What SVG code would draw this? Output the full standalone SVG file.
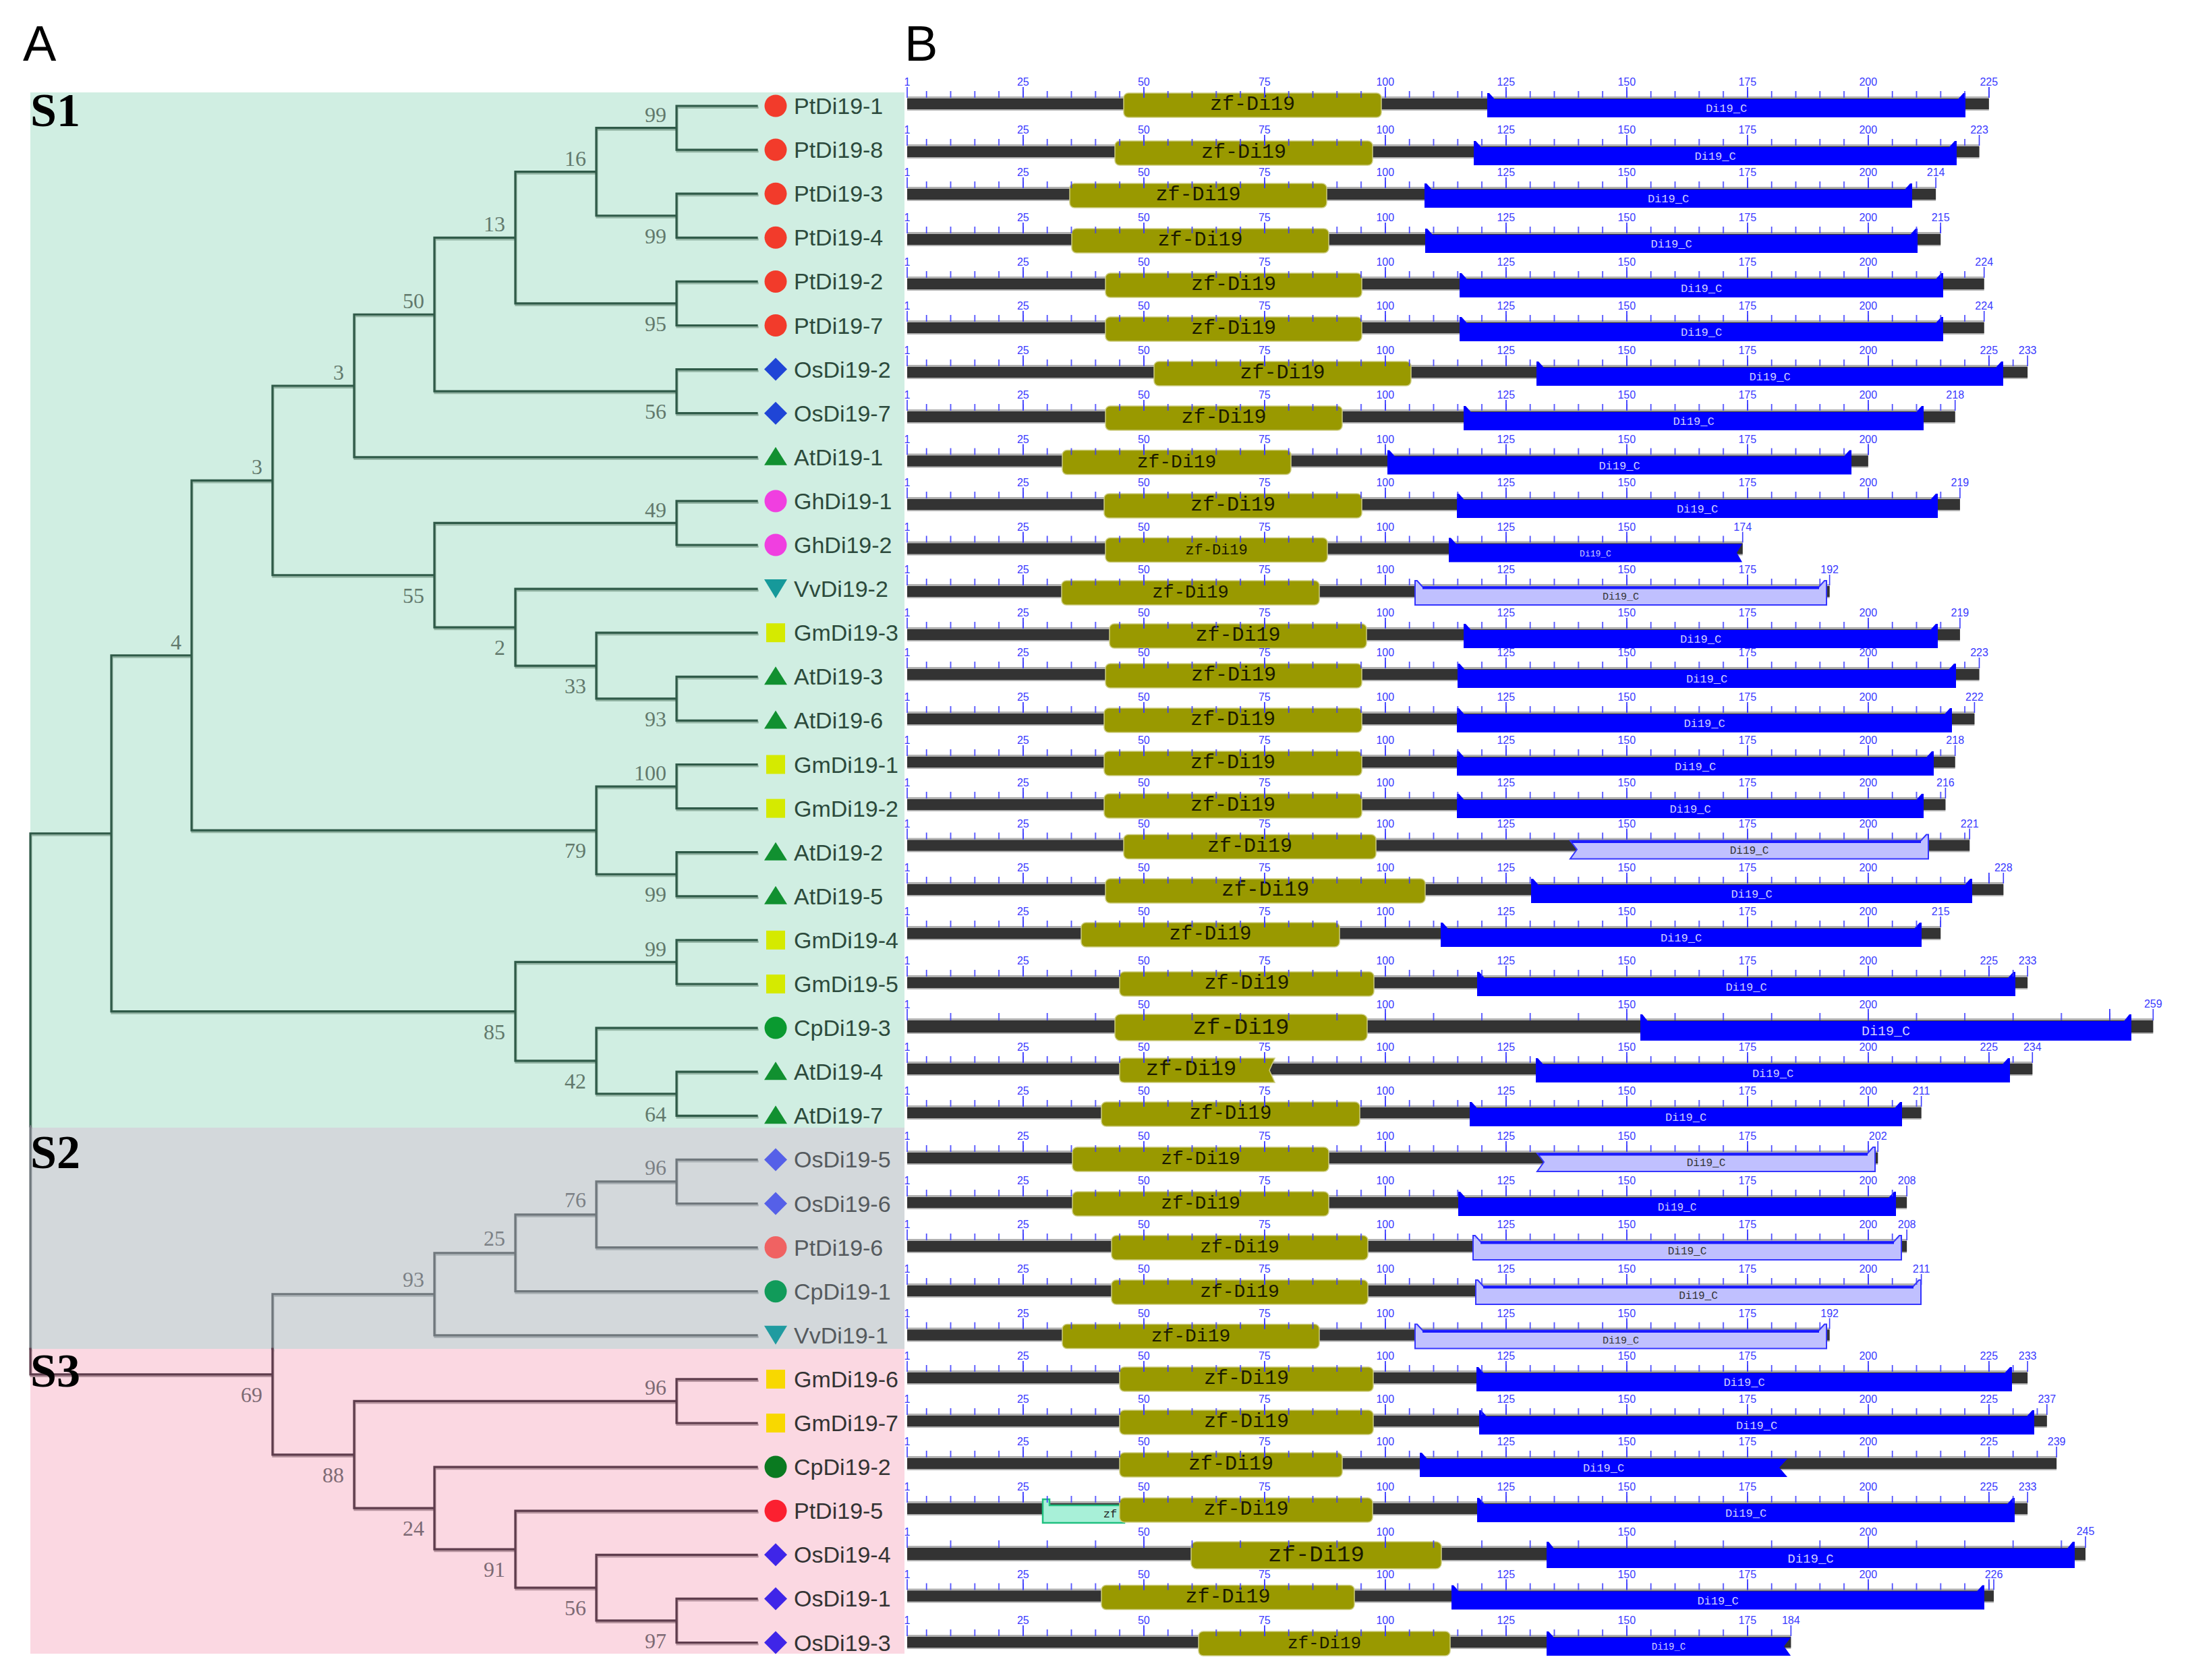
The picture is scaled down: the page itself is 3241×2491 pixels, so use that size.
<svg xmlns="http://www.w3.org/2000/svg" xmlns:xlink="http://www.w3.org/1999/xlink" width="3241" height="2491" viewBox="0 0 3241 2491">
<style>
.bg1{fill:#d0eee2}.bg2{fill:#d3d8db}.bg3{fill:#fbd8e2}
.ln{fill:none;stroke-width:3.2;stroke-linecap:square}
.c1{stroke:#2f5a48}.c2{stroke:#6f777c}.c3{stroke:#5e3c4c}
.s1{stroke:#93b4a4}.s2{stroke:#a9b0b4}.s3{stroke:#b7949f}
.lb1{font-family:"Liberation Sans",Arial,sans-serif;font-size:34px;fill:#2c4a3c}
.lb2{font-family:"Liberation Sans",Arial,sans-serif;font-size:34px;fill:#555a5e}
.lb3{font-family:"Liberation Sans",Arial,sans-serif;font-size:34px;fill:#333333}
.bs1{font-family:"Liberation Serif","Times New Roman",serif;font-size:32px;fill:#62796c;text-anchor:end}
.bs2{font-family:"Liberation Serif","Times New Roman",serif;font-size:32px;fill:#7b8085;text-anchor:end}
.bs3{font-family:"Liberation Serif","Times New Roman",serif;font-size:32px;fill:#7d6a74;text-anchor:end}
.sec{font-family:"Liberation Serif","Times New Roman",serif;font-size:70px;font-weight:bold;fill:#000}
.pan{font-family:"Liberation Sans",Arial,sans-serif;font-size:74px;fill:#000}
.bb{fill:#b0b0b0}.bd{fill:#333333}
.zf{fill:#999900;stroke:#cccc80;stroke-width:1.5}
.cd{fill:#0000ff}
.cl{fill:#c0c0ff;stroke:#3535ff;stroke-width:2}
.cs{fill:#1a1aff}
.te{fill:#a8f0d8;stroke:#20c080;stroke-width:2.5}
.zt{font-family:"Liberation Mono","Courier New",monospace;font-size:30px;fill:#1a1a00;text-anchor:middle}
.ct{font-family:"Liberation Mono","Courier New",monospace;font-size:17px;fill:#d0d0ff;text-anchor:middle}
.ctl{font-family:"Liberation Mono","Courier New",monospace;font-size:16px;fill:#333333;text-anchor:middle}
.m5{fill:url(#pm5)}.M25{fill:url(#pM25)}.m10{fill:url(#pm10)}.M50{fill:url(#pM50)}
.tk{fill:#3a3aff}
.tl{font-family:"Liberation Sans",Arial,sans-serif;font-size:16px;fill:#3a3aff;text-anchor:middle}
</style>
<defs>
<pattern id="pm5" patternUnits="userSpaceOnUse" x="1372.8" y="0" width="35.8" height="40"><rect x="0" y="0" width="1.6" height="40" fill="#3a3aff"/></pattern>
<pattern id="pM25" patternUnits="userSpaceOnUse" x="1516" y="0" width="179" height="40"><rect x="0" y="0" width="1.8" height="40" fill="#3a3aff"/></pattern>
<pattern id="pm10" patternUnits="userSpaceOnUse" x="1408.6" y="0" width="71.6" height="40"><rect x="0" y="0" width="1.6" height="40" fill="#3a3aff"/></pattern>
<pattern id="pM50" patternUnits="userSpaceOnUse" x="1695" y="0" width="358" height="40"><rect x="0" y="0" width="1.8" height="40" fill="#3a3aff"/></pattern>
<g id="L150" font-family="Liberation Sans, Arial, sans-serif" font-size="16" fill="#3a3aff" text-anchor="middle"><text x="1345" y="-27">1</text><text x="1516.8" y="-27">25</text><text x="1695.8" y="-27">50</text><text x="1874.8" y="-27">75</text><text x="2053.8" y="-27">100</text><text x="2232.8" y="-27">125</text><text x="2411.8" y="-27">150</text></g>
<g id="L175"><use href="#L150"/><text x="2590.8" y="-27" font-family="Liberation Sans, Arial, sans-serif" font-size="16" fill="#3a3aff" text-anchor="middle">175</text></g>
<g id="L200"><use href="#L175"/><text x="2769.8" y="-27" font-family="Liberation Sans, Arial, sans-serif" font-size="16" fill="#3a3aff" text-anchor="middle">200</text></g>
<g id="L225"><use href="#L200"/><text x="2948.8" y="-27" font-family="Liberation Sans, Arial, sans-serif" font-size="16" fill="#3a3aff" text-anchor="middle">225</text></g>
<g id="LL200" font-family="Liberation Sans, Arial, sans-serif" font-size="16" fill="#3a3aff" text-anchor="middle"><text x="1345" y="-27">1</text><text x="1695.8" y="-27">50</text><text x="2053.8" y="-27">100</text><text x="2411.8" y="-27">150</text><text x="2769.8" y="-27">200</text></g>
<circle id="sc" cx="0" cy="0" r="16.5"/>
<path id="stu" d="M0,-15L17,12H-17Z"/>
<path id="std" d="M0,14L17,-14H-17Z"/>
<rect id="ssq" x="-14" y="-14" width="28" height="28"/>
<path id="sdm" d="M0,-17L17,0L0,17L-17,0Z"/>
<path id="tS1" d="M1122,157H1003V222.1H1122M1122,287.2H1003V352.3H1122M1003,189.55H884V319.75H1003M1122,417.4H1003V482.5H1122M884,254.65H764V449.95H1003M1122,547.6H1003V612.7H1122M764,352.3H644V580.15H1003M644,466.23H525V677.8H1122M1122,742.9H1003V808H1122M1122,1003.3H1003V1068.4H1122M1122,938.2H884V1035.85H1003M1122,873.1H764V987.03H884M1003,775.45H644V930.06H764M525,572H404V852.76H644M1122,1133.5H1003V1198.6H1122M1122,1263.7H1003V1328.8H1122M1003,1166.05H884V1296.25H1003M404,712.38H284V1231.15H884M1122,1393.9H1003V1459H1122M1122,1589.2H1003V1654.3H1122M1122,1524.1H884V1621.75H1003M1003,1426.45H764V1572.93H884M284,971.77H165V1499.69H764M165,1235.73H45V1670"/>
<path id="tS2" d="M1122,1719.4H1003V1784.5H1122M1003,1751.95H884V1849.6H1122M884,1800.78H764V1914.7H1122M764,1857.74H644V1979.8H1122M644,1918.77H404V2000M45,1670V2000"/>
<path id="tS3" d="M404,2000V2156.79H525M45,2000V2037.78H404M1122,2044.9H1003V2110H1122M1122,2370.4H1003V2435.5H1122M1122,2305.3H884V2402.95H1003M1122,2240.2H764V2354.13H884M1122,2175.1H644V2297.16H764M1003,2077.45H525V2236.13H644"/>
</defs>
<rect x="0" y="0" width="3241" height="2491" fill="#ffffff"/>
<g id="backgrounds">
<rect class="bg1" x="45" y="137" width="1296" height="1535"/>
<rect class="bg2" x="45" y="1672" width="1296" height="328"/>
<rect class="bg3" x="45" y="2000" width="1296" height="452"/>
</g>
<g id="connectors">
<use href="#tS1" class="ln s1" transform="translate(1,2.5)"/>
<use href="#tS2" class="ln s2" transform="translate(1,2.5)"/>
<use href="#tS3" class="ln s3" transform="translate(1,2.5)"/>
<use href="#tS1" class="ln c1"/>
<use href="#tS2" class="ln c2"/>
<use href="#tS3" class="ln c3"/>
</g>
<g id="bootstrap">
<text class="bs1" x="988" y="180.5">99</text>
<text class="bs1" x="988" y="361">99</text>
<text class="bs1" x="869" y="245.6">16</text>
<text class="bs1" x="988" y="491">95</text>
<text class="bs1" x="749" y="343.3">13</text>
<text class="bs1" x="988" y="621">56</text>
<text class="bs1" x="629" y="457.2">50</text>
<text class="bs1" x="510" y="563">3</text>
<text class="bs1" x="988" y="766.5">49</text>
<text class="bs1" x="988" y="1077">93</text>
<text class="bs1" x="869" y="1028">33</text>
<text class="bs1" x="749" y="971">2</text>
<text class="bs1" x="629" y="894">55</text>
<text class="bs1" x="389" y="703.4">3</text>
<text class="bs1" x="988" y="1157">100</text>
<text class="bs1" x="988" y="1337">99</text>
<text class="bs1" x="869" y="1272">79</text>
<text class="bs1" x="269" y="962.8">4</text>
<text class="bs1" x="988" y="1417.5">99</text>
<text class="bs1" x="988" y="1663">64</text>
<text class="bs1" x="869" y="1614">42</text>
<text class="bs1" x="749" y="1541">85</text>
<text class="bs2" x="988" y="1742">96</text>
<text class="bs2" x="869" y="1790">76</text>
<text class="bs2" x="749" y="1847">25</text>
<text class="bs2" x="629" y="1908">93</text>
<text class="bs3" x="988" y="2068">96</text>
<text class="bs3" x="988" y="2444">97</text>
<text class="bs3" x="869" y="2395">56</text>
<text class="bs3" x="749" y="2338">91</text>
<text class="bs3" x="629" y="2277">24</text>
<text class="bs3" x="510" y="2198">88</text>
<text class="bs3" x="389" y="2079">69</text>
</g>
<g id="titles">
<text class="pan" x="34" y="90">A</text>
<text class="pan" x="1341" y="90">B</text>
<text class="sec" x="45" y="187">S1</text>
<text class="sec" x="45" y="1732">S2</text>
<text class="sec" x="45" y="2056">S3</text>
</g>
<g id="leaves">
<g id="PtDi19-1"><use href="#sc" x="1150" y="157" fill="#f23b2b"/><text class="lb1" x="1177" y="169">PtDi19-1</text></g>
<g id="PtDi19-8"><use href="#sc" x="1150" y="222.1" fill="#f23b2b"/><text class="lb1" x="1177" y="234.1">PtDi19-8</text></g>
<g id="PtDi19-3"><use href="#sc" x="1150" y="287.2" fill="#f23b2b"/><text class="lb1" x="1177" y="299.2">PtDi19-3</text></g>
<g id="PtDi19-4"><use href="#sc" x="1150" y="352.3" fill="#f23b2b"/><text class="lb1" x="1177" y="364.3">PtDi19-4</text></g>
<g id="PtDi19-2"><use href="#sc" x="1150" y="417.4" fill="#f23b2b"/><text class="lb1" x="1177" y="429.4">PtDi19-2</text></g>
<g id="PtDi19-7"><use href="#sc" x="1150" y="482.5" fill="#f23b2b"/><text class="lb1" x="1177" y="494.5">PtDi19-7</text></g>
<g id="OsDi19-2"><use href="#sdm" x="1150" y="547.6" fill="#1f45d6"/><text class="lb1" x="1177" y="559.6">OsDi19-2</text></g>
<g id="OsDi19-7"><use href="#sdm" x="1150" y="612.7" fill="#1f45d6"/><text class="lb1" x="1177" y="624.7">OsDi19-7</text></g>
<g id="AtDi19-1"><use href="#stu" x="1150" y="677.8" fill="#119030"/><text class="lb1" x="1177" y="689.8">AtDi19-1</text></g>
<g id="GhDi19-1"><use href="#sc" x="1150" y="742.9" fill="#f03fe0"/><text class="lb1" x="1177" y="754.9">GhDi19-1</text></g>
<g id="GhDi19-2"><use href="#sc" x="1150" y="808" fill="#f03fe0"/><text class="lb1" x="1177" y="820">GhDi19-2</text></g>
<g id="VvDi19-2"><use href="#std" x="1150" y="873.1" fill="#16999a"/><text class="lb1" x="1177" y="885.1">VvDi19-2</text></g>
<g id="GmDi19-3"><use href="#ssq" x="1150" y="938.2" fill="#d5ea00"/><text class="lb1" x="1177" y="950.2">GmDi19-3</text></g>
<g id="AtDi19-3"><use href="#stu" x="1150" y="1003.3" fill="#119030"/><text class="lb1" x="1177" y="1015.3">AtDi19-3</text></g>
<g id="AtDi19-6"><use href="#stu" x="1150" y="1068.4" fill="#119030"/><text class="lb1" x="1177" y="1080.4">AtDi19-6</text></g>
<g id="GmDi19-1"><use href="#ssq" x="1150" y="1133.5" fill="#d5ea00"/><text class="lb1" x="1177" y="1145.5">GmDi19-1</text></g>
<g id="GmDi19-2"><use href="#ssq" x="1150" y="1198.6" fill="#d5ea00"/><text class="lb1" x="1177" y="1210.6">GmDi19-2</text></g>
<g id="AtDi19-2"><use href="#stu" x="1150" y="1263.7" fill="#119030"/><text class="lb1" x="1177" y="1275.7">AtDi19-2</text></g>
<g id="AtDi19-5"><use href="#stu" x="1150" y="1328.8" fill="#119030"/><text class="lb1" x="1177" y="1340.8">AtDi19-5</text></g>
<g id="GmDi19-4"><use href="#ssq" x="1150" y="1393.9" fill="#d5ea00"/><text class="lb1" x="1177" y="1405.9">GmDi19-4</text></g>
<g id="GmDi19-5"><use href="#ssq" x="1150" y="1459" fill="#d5ea00"/><text class="lb1" x="1177" y="1471">GmDi19-5</text></g>
<g id="CpDi19-3"><use href="#sc" x="1150" y="1524.1" fill="#0a9a30"/><text class="lb1" x="1177" y="1536.1">CpDi19-3</text></g>
<g id="AtDi19-4"><use href="#stu" x="1150" y="1589.2" fill="#119030"/><text class="lb1" x="1177" y="1601.2">AtDi19-4</text></g>
<g id="AtDi19-7"><use href="#stu" x="1150" y="1654.3" fill="#119030"/><text class="lb1" x="1177" y="1666.3">AtDi19-7</text></g>
<g id="OsDi19-5"><use href="#sdm" x="1150" y="1719.4" fill="#5560e8"/><text class="lb2" x="1177" y="1731.4">OsDi19-5</text></g>
<g id="OsDi19-6"><use href="#sdm" x="1150" y="1784.5" fill="#5560e8"/><text class="lb2" x="1177" y="1796.5">OsDi19-6</text></g>
<g id="PtDi19-6"><use href="#sc" x="1150" y="1849.6" fill="#f06262"/><text class="lb2" x="1177" y="1861.6">PtDi19-6</text></g>
<g id="CpDi19-1"><use href="#sc" x="1150" y="1914.7" fill="#119b5a"/><text class="lb2" x="1177" y="1926.7">CpDi19-1</text></g>
<g id="VvDi19-1"><use href="#std" x="1150" y="1979.8" fill="#1f9ba0"/><text class="lb2" x="1177" y="1991.8">VvDi19-1</text></g>
<g id="GmDi19-6"><use href="#ssq" x="1150" y="2044.9" fill="#f8d800"/><text class="lb3" x="1177" y="2056.9">GmDi19-6</text></g>
<g id="GmDi19-7"><use href="#ssq" x="1150" y="2110" fill="#f8d800"/><text class="lb3" x="1177" y="2122">GmDi19-7</text></g>
<g id="CpDi19-2"><use href="#sc" x="1150" y="2175.1" fill="#0a7a20"/><text class="lb3" x="1177" y="2187.1">CpDi19-2</text></g>
<g id="PtDi19-5"><use href="#sc" x="1150" y="2240.2" fill="#fb2030"/><text class="lb3" x="1177" y="2252.2">PtDi19-5</text></g>
<g id="OsDi19-4"><use href="#sdm" x="1150" y="2305.3" fill="#3f25e8"/><text class="lb3" x="1177" y="2317.3">OsDi19-4</text></g>
<g id="OsDi19-1"><use href="#sdm" x="1150" y="2370.4" fill="#3f25e8"/><text class="lb3" x="1177" y="2382.4">OsDi19-1</text></g>
<g id="OsDi19-3"><use href="#sdm" x="1150" y="2435.5" fill="#3f25e8"/><text class="lb3" x="1177" y="2447.5">OsDi19-3</text></g>
</g>
<g id="domains">
<g id="d-PtDi19-1" transform="translate(0,154)"><rect class="bb" x="1345" y="-11" width="1603.8" height="21"/><rect class="bd" x="1345" y="-8" width="1603.8" height="16"/><rect class="zf" x="1666" y="-16" width="382" height="36" rx="7"/><path class="cd" d="M2205,20V-16H2208L2216,-7H2903L2911,-16H2914V20Z"/><text class="zt" x="1857" y="9">zf-Di19</text><text class="ct" x="2559.5" y="12">Di19_C</text><rect class="m5" x="1345" y="-19" width="1604.8" height="10"/><rect class="M25" x="1345" y="-25" width="1604.8" height="16"/><rect class="tk" x="1344.2" y="-25" width="1.6" height="16"/><rect class="tk" x="2948" y="-25" width="1.6" height="16"/><use href="#L225"/></g>
<g id="d-PtDi19-8" transform="translate(0,225)"><rect class="bb" x="1345" y="-11" width="1589.5" height="21"/><rect class="bd" x="1345" y="-8" width="1589.5" height="16"/><rect class="zf" x="1653" y="-16" width="382" height="36" rx="7"/><path class="cd" d="M2185,20V-16H2188L2196,-7H2890L2898,-16H2901V20Z"/><text class="zt" x="1844" y="9">zf-Di19</text><text class="ct" x="2543" y="12">Di19_C</text><rect class="m5" x="1345" y="-19" width="1590.5" height="10"/><rect class="M25" x="1345" y="-25" width="1590.5" height="16"/><rect class="tk" x="1344.2" y="-25" width="1.6" height="16"/><rect class="tk" x="2933.7" y="-25" width="1.6" height="16"/><use href="#L200"/><text class="tl" x="2934.5" y="-27">223</text></g>
<g id="d-PtDi19-3" transform="translate(0,288)"><rect class="bb" x="1345" y="-11" width="1525.1" height="21"/><rect class="bd" x="1345" y="-8" width="1525.1" height="16"/><rect class="zf" x="1586" y="-16" width="381" height="36" rx="7"/><path class="cd" d="M2112,20V-16H2115L2123,-7H2824L2832,-16H2835V20Z"/><text class="zt" x="1776.5" y="9">zf-Di19</text><text class="ct" x="2473.5" y="12">Di19_C</text><rect class="m5" x="1345" y="-19" width="1526.1" height="10"/><rect class="M25" x="1345" y="-25" width="1526.1" height="16"/><rect class="tk" x="1344.2" y="-25" width="1.6" height="16"/><rect class="tk" x="2869.3" y="-25" width="1.6" height="16"/><use href="#L200"/><text class="tl" x="2870.1" y="-27">214</text></g>
<g id="d-PtDi19-4" transform="translate(0,355)"><rect class="bb" x="1345" y="-11" width="1532.2" height="21"/><rect class="bd" x="1345" y="-8" width="1532.2" height="16"/><rect class="zf" x="1589" y="-16" width="381" height="36" rx="7"/><path class="cd" d="M2113,20V-16H2116L2124,-7H2832L2840,-16H2843V20Z"/><text class="zt" x="1779.5" y="9">zf-Di19</text><text class="ct" x="2478" y="12">Di19_C</text><rect class="m5" x="1345" y="-19" width="1533.2" height="10"/><rect class="M25" x="1345" y="-25" width="1533.2" height="16"/><rect class="tk" x="1344.2" y="-25" width="1.6" height="16"/><rect class="tk" x="2876.4" y="-25" width="1.6" height="16"/><use href="#L200"/><text class="tl" x="2877.2" y="-27">215</text></g>
<g id="d-PtDi19-2" transform="translate(0,421)"><rect class="bb" x="1345" y="-11" width="1596.7" height="21"/><rect class="bd" x="1345" y="-8" width="1596.7" height="16"/><rect class="zf" x="1639" y="-16" width="380" height="36" rx="7"/><path class="cd" d="M2164,20V-16H2167L2175,-7H2870L2878,-16H2881V20Z"/><text class="zt" x="1829" y="9">zf-Di19</text><text class="ct" x="2522.5" y="12">Di19_C</text><rect class="m5" x="1345" y="-19" width="1597.7" height="10"/><rect class="M25" x="1345" y="-25" width="1597.7" height="16"/><rect class="tk" x="1344.2" y="-25" width="1.6" height="16"/><rect class="tk" x="2940.9" y="-25" width="1.6" height="16"/><use href="#L200"/><text class="tl" x="2941.7" y="-27">224</text></g>
<g id="d-PtDi19-7" transform="translate(0,486)"><rect class="bb" x="1345" y="-11" width="1596.7" height="21"/><rect class="bd" x="1345" y="-8" width="1596.7" height="16"/><rect class="zf" x="1639" y="-16" width="380" height="36" rx="7"/><path class="cd" d="M2164,20V-16H2167L2175,-7H2870L2878,-16H2881V20Z"/><text class="zt" x="1829" y="9">zf-Di19</text><text class="ct" x="2522.5" y="12">Di19_C</text><rect class="m5" x="1345" y="-19" width="1597.7" height="10"/><rect class="M25" x="1345" y="-25" width="1597.7" height="16"/><rect class="tk" x="1344.2" y="-25" width="1.6" height="16"/><rect class="tk" x="2940.9" y="-25" width="1.6" height="16"/><use href="#L200"/><text class="tl" x="2941.7" y="-27">224</text></g>
<g id="d-OsDi19-2" transform="translate(0,552)"><rect class="bb" x="1345" y="-11" width="1661.1" height="21"/><rect class="bd" x="1345" y="-8" width="1661.1" height="16"/><rect class="zf" x="1711" y="-16" width="381" height="36" rx="7"/><path class="cd" d="M2278,20V-16H2281L2289,-7H2959L2967,-16H2970V20Z"/><text class="zt" x="1901.5" y="9">zf-Di19</text><text class="ct" x="2624" y="12">Di19_C</text><rect class="m5" x="1345" y="-19" width="1662.1" height="10"/><rect class="M25" x="1345" y="-25" width="1662.1" height="16"/><rect class="tk" x="1344.2" y="-25" width="1.6" height="16"/><rect class="tk" x="3005.3" y="-25" width="1.6" height="16"/><use href="#L225"/><text class="tl" x="3006.1" y="-27">233</text></g>
<g id="d-OsDi19-7" transform="translate(0,618)"><rect class="bb" x="1345" y="-11" width="1553.7" height="21"/><rect class="bd" x="1345" y="-8" width="1553.7" height="16"/><rect class="zf" x="1639" y="-16" width="351" height="36" rx="7"/><path class="cd" d="M2170,20V-16H2173L2181,-7H2841L2849,-16H2852V20Z"/><text class="zt" x="1814.5" y="9">zf-Di19</text><text class="ct" x="2511" y="12">Di19_C</text><rect class="m5" x="1345" y="-19" width="1554.7" height="10"/><rect class="M25" x="1345" y="-25" width="1554.7" height="16"/><rect class="tk" x="1344.2" y="-25" width="1.6" height="16"/><rect class="tk" x="2897.9" y="-25" width="1.6" height="16"/><use href="#L200"/><text class="tl" x="2898.7" y="-27">218</text></g>
<g id="d-AtDi19-1" transform="translate(0,683.5)"><rect class="bb" x="1345" y="-11" width="1424.8" height="21"/><rect class="bd" x="1345" y="-8" width="1424.8" height="16"/><rect class="zf" x="1575" y="-16" width="339" height="36" rx="7"/><path class="cd" d="M2057,20V-16H2060L2068,-7H2734L2742,-16H2745V20Z"/><text class="zt" x="1744.5" y="9" style="font-size:28px">zf-Di19</text><text class="ct" x="2401" y="12">Di19_C</text><rect class="m5" x="1345" y="-19" width="1425.8" height="10"/><rect class="M25" x="1345" y="-25" width="1425.8" height="16"/><rect class="tk" x="1344.2" y="-25" width="1.6" height="16"/><rect class="tk" x="2769" y="-25" width="1.6" height="16"/><use href="#L200"/></g>
<g id="d-GhDi19-1" transform="translate(0,748)"><rect class="bb" x="1345" y="-11" width="1560.9" height="21"/><rect class="bd" x="1345" y="-8" width="1560.9" height="16"/><rect class="zf" x="1637" y="-16" width="382" height="36" rx="7"/><path class="cd" d="M2160,20V-16H2163L2171,-7H2862L2870,-16H2873V20Z"/><text class="zt" x="1828" y="9">zf-Di19</text><text class="ct" x="2516.5" y="12">Di19_C</text><rect class="m5" x="1345" y="-19" width="1561.9" height="10"/><rect class="M25" x="1345" y="-25" width="1561.9" height="16"/><rect class="tk" x="1344.2" y="-25" width="1.6" height="16"/><rect class="tk" x="2905.1" y="-25" width="1.6" height="16"/><use href="#L200"/><text class="tl" x="2905.9" y="-27">219</text></g>
<g id="d-GhDi19-2" transform="translate(0,813.5)"><rect class="bb" x="1345" y="-11" width="1238.7" height="21"/><rect class="bd" x="1345" y="-8" width="1238.7" height="16"/><rect class="zf" x="1639" y="-16" width="329" height="36" rx="7"/><path class="cd" d="M2148,20V-16H2151L2159,-7H2583L2575,6L2583,20Z"/><text class="zt" x="1803.5" y="8" style="font-size:22px">zf-Di19</text><text class="ct" x="2365.5" y="11" style="font-size:13px">Di19_C</text><rect class="m5" x="1345" y="-19" width="1239.7" height="10"/><rect class="M25" x="1345" y="-25" width="1239.7" height="16"/><rect class="tk" x="1344.2" y="-25" width="1.6" height="16"/><rect class="tk" x="2582.9" y="-25" width="1.6" height="16"/><use href="#L150"/><text class="tl" x="2583.7" y="-27">174</text></g>
<g id="d-VvDi19-2" transform="translate(0,877)"><rect class="bb" x="1345" y="-11" width="1367.6" height="21"/><rect class="bd" x="1345" y="-8" width="1367.6" height="16"/><rect class="zf" x="1574" y="-16" width="382" height="36" rx="7"/><path class="cl" d="M2098,20V-16H2101L2109,-7H2697L2705,-16H2708V20Z"/><rect class="cs" x="2109" y="-7" width="588" height="3.5"/><text class="zt" x="1765" y="9" style="font-size:27px">zf-Di19</text><text class="ctl" x="2403" y="12" style="font-size:15px">Di19_C</text><rect class="m5" x="1345" y="-19" width="1368.6" height="10"/><rect class="M25" x="1345" y="-25" width="1368.6" height="16"/><rect class="tk" x="1344.2" y="-25" width="1.6" height="16"/><rect class="tk" x="2711.8" y="-25" width="1.6" height="16"/><use href="#L175"/><text class="tl" x="2712.6" y="-27">192</text></g>
<g id="d-GmDi19-3" transform="translate(0,941)"><rect class="bb" x="1345" y="-11" width="1560.9" height="21"/><rect class="bd" x="1345" y="-8" width="1560.9" height="16"/><rect class="zf" x="1645" y="-16" width="381" height="36" rx="7"/><path class="cd" d="M2170,20V-16H2173L2181,-7H2862L2870,-16H2873V20Z"/><text class="zt" x="1835.5" y="9">zf-Di19</text><text class="ct" x="2521.5" y="12">Di19_C</text><rect class="m5" x="1345" y="-19" width="1561.9" height="10"/><rect class="M25" x="1345" y="-25" width="1561.9" height="16"/><rect class="tk" x="1344.2" y="-25" width="1.6" height="16"/><rect class="tk" x="2905.1" y="-25" width="1.6" height="16"/><use href="#L200"/><text class="tl" x="2905.9" y="-27">219</text></g>
<g id="d-AtDi19-3" transform="translate(0,1000)"><rect class="bb" x="1345" y="-11" width="1589.5" height="21"/><rect class="bd" x="1345" y="-8" width="1589.5" height="16"/><rect class="zf" x="1639" y="-16" width="380" height="36" rx="7"/><path class="cd" d="M2161,20V-16H2164L2172,-7H2889L2897,-16H2900V20Z"/><text class="zt" x="1829" y="9">zf-Di19</text><text class="ct" x="2530.5" y="12">Di19_C</text><rect class="m5" x="1345" y="-19" width="1590.5" height="10"/><rect class="M25" x="1345" y="-25" width="1590.5" height="16"/><rect class="tk" x="1344.2" y="-25" width="1.6" height="16"/><rect class="tk" x="2933.7" y="-25" width="1.6" height="16"/><use href="#L200"/><text class="tl" x="2934.5" y="-27">223</text></g>
<g id="d-AtDi19-6" transform="translate(0,1066)"><rect class="bb" x="1345" y="-11" width="1582.4" height="21"/><rect class="bd" x="1345" y="-8" width="1582.4" height="16"/><rect class="zf" x="1637" y="-16" width="382" height="36" rx="7"/><path class="cd" d="M2160,20V-16H2163L2171,-7H2883L2891,-16H2894V20Z"/><text class="zt" x="1828" y="9">zf-Di19</text><text class="ct" x="2527" y="12">Di19_C</text><rect class="m5" x="1345" y="-19" width="1583.4" height="10"/><rect class="M25" x="1345" y="-25" width="1583.4" height="16"/><rect class="tk" x="1344.2" y="-25" width="1.6" height="16"/><rect class="tk" x="2926.6" y="-25" width="1.6" height="16"/><use href="#L200"/><text class="tl" x="2927.4" y="-27">222</text></g>
<g id="d-GmDi19-1" transform="translate(0,1130)"><rect class="bb" x="1345" y="-11" width="1553.7" height="21"/><rect class="bd" x="1345" y="-8" width="1553.7" height="16"/><rect class="zf" x="1637" y="-16" width="382" height="36" rx="7"/><path class="cd" d="M2160,20V-16H2163L2171,-7H2856L2864,-16H2867V20Z"/><text class="zt" x="1828" y="9">zf-Di19</text><text class="ct" x="2513.5" y="12">Di19_C</text><rect class="m5" x="1345" y="-19" width="1554.7" height="10"/><rect class="M25" x="1345" y="-25" width="1554.7" height="16"/><rect class="tk" x="1344.2" y="-25" width="1.6" height="16"/><rect class="tk" x="2897.9" y="-25" width="1.6" height="16"/><use href="#L200"/><text class="tl" x="2898.7" y="-27">218</text></g>
<g id="d-GmDi19-2" transform="translate(0,1193)"><rect class="bb" x="1345" y="-11" width="1539.4" height="21"/><rect class="bd" x="1345" y="-8" width="1539.4" height="16"/><rect class="zf" x="1637" y="-16" width="382" height="36" rx="7"/><path class="cd" d="M2160,20V-16H2163L2171,-7H2841L2849,-16H2852V20Z"/><text class="zt" x="1828" y="9">zf-Di19</text><text class="ct" x="2506" y="12">Di19_C</text><rect class="m5" x="1345" y="-19" width="1540.4" height="10"/><rect class="M25" x="1345" y="-25" width="1540.4" height="16"/><rect class="tk" x="1344.2" y="-25" width="1.6" height="16"/><rect class="tk" x="2883.6" y="-25" width="1.6" height="16"/><use href="#L200"/><text class="tl" x="2884.4" y="-27">216</text></g>
<g id="d-AtDi19-2" transform="translate(0,1253.5)"><rect class="bb" x="1345" y="-11" width="1575.2" height="21"/><rect class="bd" x="1345" y="-8" width="1575.2" height="16"/><rect class="zf" x="1666" y="-16" width="374" height="36" rx="7"/><path class="cl" d="M2328,-7H2848L2856,-16H2859V20H2328L2338,6Z"/><rect class="cs" x="2330" y="-7" width="518" height="3.5"/><text class="zt" x="1853" y="9">zf-Di19</text><text class="ctl" x="2593.5" y="12">Di19_C</text><rect class="m5" x="1345" y="-19" width="1576.2" height="10"/><rect class="M25" x="1345" y="-25" width="1576.2" height="16"/><rect class="tk" x="1344.2" y="-25" width="1.6" height="16"/><rect class="tk" x="2919.4" y="-25" width="1.6" height="16"/><use href="#L200"/><text class="tl" x="2920.2" y="-27">221</text></g>
<g id="d-AtDi19-5" transform="translate(0,1319)"><rect class="bb" x="1345" y="-11" width="1625.3" height="21"/><rect class="bd" x="1345" y="-8" width="1625.3" height="16"/><rect class="zf" x="1639" y="-16" width="474" height="36" rx="7"/><path class="cd" d="M2270,20V-16H2273L2281,-7H2913L2921,-16H2924V20Z"/><text class="zt" x="1876" y="9" style="font-size:31px">zf-Di19</text><text class="ct" x="2597" y="12">Di19_C</text><rect class="m5" x="1345" y="-19" width="1626.3" height="10"/><rect class="M25" x="1345" y="-25" width="1626.3" height="16"/><rect class="tk" x="1344.2" y="-25" width="1.6" height="16"/><rect class="tk" x="2969.5" y="-25" width="1.6" height="16"/><use href="#L200"/><text class="tl" x="2970.3" y="-27">228</text></g>
<g id="d-GmDi19-4" transform="translate(0,1384)"><rect class="bb" x="1345" y="-11" width="1532.2" height="21"/><rect class="bd" x="1345" y="-8" width="1532.2" height="16"/><rect class="zf" x="1603" y="-16" width="383" height="36" rx="7"/><path class="cd" d="M2136,20V-16H2139L2147,-7H2838L2846,-16H2849V20Z"/><text class="zt" x="1794.5" y="9" style="font-size:29px">zf-Di19</text><text class="ct" x="2492.5" y="12">Di19_C</text><rect class="m5" x="1345" y="-19" width="1533.2" height="10"/><rect class="M25" x="1345" y="-25" width="1533.2" height="16"/><rect class="tk" x="1344.2" y="-25" width="1.6" height="16"/><rect class="tk" x="2876.4" y="-25" width="1.6" height="16"/><use href="#L200"/><text class="tl" x="2877.2" y="-27">215</text></g>
<g id="d-GmDi19-5" transform="translate(0,1457)"><rect class="bb" x="1345" y="-11" width="1661.1" height="21"/><rect class="bd" x="1345" y="-8" width="1661.1" height="16"/><rect class="zf" x="1660" y="-16" width="377" height="36" rx="7"/><path class="cd" d="M2190,20V-16H2193L2201,-7H2977L2985,-16H2988V20Z"/><text class="zt" x="1848.5" y="9">zf-Di19</text><text class="ct" x="2589" y="12">Di19_C</text><rect class="m5" x="1345" y="-19" width="1662.1" height="10"/><rect class="M25" x="1345" y="-25" width="1662.1" height="16"/><rect class="tk" x="1344.2" y="-25" width="1.6" height="16"/><rect class="tk" x="3005.3" y="-25" width="1.6" height="16"/><use href="#L225"/><text class="tl" x="3006.1" y="-27">233</text></g>
<g id="d-CpDi19-3" transform="translate(0,1522)"><rect class="bb" x="1345" y="-12" width="1847.3" height="23"/><rect class="bd" x="1345" y="-9" width="1847.3" height="18"/><rect class="zf" x="1653" y="-18" width="374" height="39" rx="8"/><path class="cd" d="M2432,21V-18H2435L2443,-8H3149L3157,-18H3160V21Z"/><text class="zt" x="1840" y="11" style="font-size:34px">zf-Di19</text><text class="ct" x="2796" y="13" style="font-size:20px">Di19_C</text><rect class="m10" x="1345" y="-20" width="1848.3" height="11"/><rect class="M50" x="1345" y="-26" width="1848.3" height="17"/><rect class="tk" x="1344.2" y="-26" width="1.6" height="17"/><rect class="tk" x="3191.5" y="-26" width="1.6" height="17"/><use href="#LL200"/><text class="tl" x="3192.3" y="-28">259</text></g>
<g id="d-AtDi19-4" transform="translate(0,1585)"><rect class="bb" x="1345" y="-11" width="1668.3" height="21"/><rect class="bd" x="1345" y="-8" width="1668.3" height="16"/><path class="zf" d="M1667,-16H1890L1882,2L1890,20H1667Q1660,20 1660,13V-9Q1660,-16 1667,-16Z"/><path class="cd" d="M2277,20V-16H2280L2288,-7H2969L2977,-16H2980V20Z"/><text class="zt" x="1766" y="9" style="font-size:32px">zf-Di19</text><text class="ct" x="2628.5" y="12">Di19_C</text><rect class="m5" x="1345" y="-19" width="1669.3" height="10"/><rect class="M25" x="1345" y="-25" width="1669.3" height="16"/><rect class="tk" x="1344.2" y="-25" width="1.6" height="16"/><rect class="tk" x="3012.5" y="-25" width="1.6" height="16"/><use href="#L225"/><text class="tl" x="3013.3" y="-27">234</text></g>
<g id="d-AtDi19-7" transform="translate(0,1650)"><rect class="bb" x="1345" y="-11" width="1503.6" height="21"/><rect class="bd" x="1345" y="-8" width="1503.6" height="16"/><rect class="zf" x="1633" y="-16" width="383" height="36" rx="7"/><path class="cd" d="M2179,20V-16H2182L2190,-7H2809L2817,-16H2820V20Z"/><text class="zt" x="1824.5" y="9" style="font-size:29px">zf-Di19</text><text class="ct" x="2499.5" y="12">Di19_C</text><rect class="m5" x="1345" y="-19" width="1504.6" height="10"/><rect class="M25" x="1345" y="-25" width="1504.6" height="16"/><rect class="tk" x="1344.2" y="-25" width="1.6" height="16"/><rect class="tk" x="2847.8" y="-25" width="1.6" height="16"/><use href="#L200"/><text class="tl" x="2848.6" y="-27">211</text></g>
<g id="d-OsDi19-5" transform="translate(0,1717)"><rect class="bb" x="1345" y="-11" width="1439.2" height="21"/><rect class="bd" x="1345" y="-8" width="1439.2" height="16"/><rect class="zf" x="1590" y="-16" width="380" height="36" rx="7"/><path class="cl" d="M2279,-7H2769L2777,-16H2780V20H2279L2289,6Z"/><rect class="cs" x="2281" y="-7" width="488" height="3.5"/><text class="zt" x="1780" y="9" style="font-size:28px">zf-Di19</text><text class="ctl" x="2529.5" y="12">Di19_C</text><rect class="m5" x="1345" y="-19" width="1440.2" height="10"/><rect class="M25" x="1345" y="-25" width="1440.2" height="16"/><rect class="tk" x="1344.2" y="-25" width="1.6" height="16"/><rect class="tk" x="2783.4" y="-25" width="1.6" height="16"/><use href="#L175"/><text class="tl" x="2784.2" y="-27">202</text></g>
<g id="d-OsDi19-6" transform="translate(0,1783)"><rect class="bb" x="1345" y="-11" width="1482.1" height="21"/><rect class="bd" x="1345" y="-8" width="1482.1" height="16"/><rect class="zf" x="1590" y="-16" width="380" height="36" rx="7"/><path class="cd" d="M2162,20V-16H2165L2173,-7H2800L2808,-16H2811V20Z"/><text class="zt" x="1780" y="9" style="font-size:28px">zf-Di19</text><text class="ct" x="2486.5" y="12" style="font-size:16px">Di19_C</text><rect class="m5" x="1345" y="-19" width="1483.1" height="10"/><rect class="M25" x="1345" y="-25" width="1483.1" height="16"/><rect class="tk" x="1344.2" y="-25" width="1.6" height="16"/><rect class="tk" x="2826.3" y="-25" width="1.6" height="16"/><use href="#L200"/><text class="tl" x="2827.1" y="-27">208</text></g>
<g id="d-PtDi19-6" transform="translate(0,1848)"><rect class="bb" x="1345" y="-11" width="1482.1" height="21"/><rect class="bd" x="1345" y="-8" width="1482.1" height="16"/><rect class="zf" x="1648" y="-16" width="380" height="36" rx="7"/><path class="cl" d="M2184,20V-16H2187L2195,-7H2808L2816,-16H2819V20Z"/><rect class="cs" x="2195" y="-7" width="613" height="3.5"/><text class="zt" x="1838" y="9" style="font-size:28px">zf-Di19</text><text class="ctl" x="2501.5" y="12">Di19_C</text><rect class="m5" x="1345" y="-19" width="1483.1" height="10"/><rect class="M25" x="1345" y="-25" width="1483.1" height="16"/><rect class="tk" x="1344.2" y="-25" width="1.6" height="16"/><rect class="tk" x="2826.3" y="-25" width="1.6" height="16"/><use href="#L200"/><text class="tl" x="2827.1" y="-27">208</text></g>
<g id="d-CpDi19-1" transform="translate(0,1914)"><rect class="bb" x="1345" y="-11" width="1503.6" height="21"/><rect class="bd" x="1345" y="-8" width="1503.6" height="16"/><rect class="zf" x="1648" y="-16" width="380" height="36" rx="7"/><path class="cl" d="M2188,20V-16H2191L2199,-7H2837L2845,-16H2848V20Z"/><rect class="cs" x="2199" y="-7" width="638" height="3.5"/><text class="zt" x="1838" y="9" style="font-size:28px">zf-Di19</text><text class="ctl" x="2518" y="12">Di19_C</text><rect class="m5" x="1345" y="-19" width="1504.6" height="10"/><rect class="M25" x="1345" y="-25" width="1504.6" height="16"/><rect class="tk" x="1344.2" y="-25" width="1.6" height="16"/><rect class="tk" x="2847.8" y="-25" width="1.6" height="16"/><use href="#L200"/><text class="tl" x="2848.6" y="-27">211</text></g>
<g id="d-VvDi19-1" transform="translate(0,1979.5)"><rect class="bb" x="1345" y="-11" width="1367.6" height="21"/><rect class="bd" x="1345" y="-8" width="1367.6" height="16"/><rect class="zf" x="1575" y="-16" width="381" height="36" rx="7"/><path class="cl" d="M2098,20V-16H2101L2109,-7H2697L2705,-16H2708V20Z"/><rect class="cs" x="2109" y="-7" width="588" height="3.5"/><text class="zt" x="1765.5" y="9" style="font-size:28px">zf-Di19</text><text class="ctl" x="2403" y="12" style="font-size:15px">Di19_C</text><rect class="m5" x="1345" y="-19" width="1368.6" height="10"/><rect class="M25" x="1345" y="-25" width="1368.6" height="16"/><rect class="tk" x="1344.2" y="-25" width="1.6" height="16"/><rect class="tk" x="2711.8" y="-25" width="1.6" height="16"/><use href="#L175"/><text class="tl" x="2712.6" y="-27">192</text></g>
<g id="d-GmDi19-6" transform="translate(0,2043)"><rect class="bb" x="1345" y="-11" width="1661.1" height="21"/><rect class="bd" x="1345" y="-8" width="1661.1" height="16"/><rect class="zf" x="1660" y="-16" width="376" height="36" rx="7"/><path class="cd" d="M2189,20V-16H2192L2200,-7H2972L2980,-16H2983V20Z"/><text class="zt" x="1848" y="9">zf-Di19</text><text class="ct" x="2586" y="12">Di19_C</text><rect class="m5" x="1345" y="-19" width="1662.1" height="10"/><rect class="M25" x="1345" y="-25" width="1662.1" height="16"/><rect class="tk" x="1344.2" y="-25" width="1.6" height="16"/><rect class="tk" x="3005.3" y="-25" width="1.6" height="16"/><use href="#L225"/><text class="tl" x="3006.1" y="-27">233</text></g>
<g id="d-GmDi19-7" transform="translate(0,2107)"><rect class="bb" x="1345" y="-11" width="1689.8" height="21"/><rect class="bd" x="1345" y="-8" width="1689.8" height="16"/><rect class="zf" x="1660" y="-16" width="376" height="36" rx="7"/><path class="cd" d="M2193,20V-16H2196L2204,-7H3005L3013,-16H3016V20Z"/><text class="zt" x="1848" y="9">zf-Di19</text><text class="ct" x="2604.5" y="12">Di19_C</text><rect class="m5" x="1345" y="-19" width="1690.8" height="10"/><rect class="M25" x="1345" y="-25" width="1690.8" height="16"/><rect class="tk" x="1344.2" y="-25" width="1.6" height="16"/><rect class="tk" x="3034" y="-25" width="1.6" height="16"/><use href="#L225"/><text class="tl" x="3034.8" y="-27">237</text></g>
<g id="d-CpDi19-2" transform="translate(0,2170)"><rect class="bb" x="1345" y="-11" width="1704.1" height="21"/><rect class="bd" x="1345" y="-8" width="1704.1" height="16"/><rect class="zf" x="1660" y="-16" width="330" height="36" rx="7"/><path class="cd" d="M2105,20V-16H2108L2116,-7H2650L2638,6L2650,20Z"/><text class="zt" x="1825" y="9">zf-Di19</text><text class="ct" x="2377.5" y="12">Di19_C</text><rect class="m5" x="1345" y="-19" width="1705.1" height="10"/><rect class="M25" x="1345" y="-25" width="1705.1" height="16"/><rect class="tk" x="1344.2" y="-25" width="1.6" height="16"/><rect class="tk" x="3048.3" y="-25" width="1.6" height="16"/><use href="#L225"/><text class="tl" x="3049.1" y="-27">239</text></g>
<g id="d-PtDi19-5" transform="translate(0,2237)"><rect class="bb" x="1345" y="-11" width="1661.1" height="21"/><rect class="bd" x="1345" y="-8" width="1661.1" height="16"/><path class="te" d="M1546,21V-14H1556V-5H1667V21Z"/><text class="ctl" x="1646" y="13" style="font-size:17px;fill:#222">zf</text><rect class="zf" x="1660" y="-16" width="375" height="36" rx="7"/><path class="cd" d="M2190,20V-16H2193L2201,-7H2976L2984,-16H2987V20Z"/><text class="zt" x="1847.5" y="9">zf-Di19</text><text class="ct" x="2588.5" y="12">Di19_C</text><rect class="m5" x="1345" y="-19" width="1662.1" height="10"/><rect class="M25" x="1345" y="-25" width="1662.1" height="16"/><rect class="tk" x="1344.2" y="-25" width="1.6" height="16"/><rect class="tk" x="3005.3" y="-25" width="1.6" height="16"/><use href="#L225"/><text class="tl" x="3006.1" y="-27">233</text></g>
<g id="d-OsDi19-4" transform="translate(0,2304)"><rect class="bb" x="1345" y="-12" width="1747" height="23"/><rect class="bd" x="1345" y="-9" width="1747" height="18"/><rect class="zf" x="1766" y="-18" width="371" height="40" rx="8"/><path class="cd" d="M2293,21V-18H2296L2304,-8H3065L3073,-18H3076V21Z"/><text class="zt" x="1951.5" y="11" style="font-size:34px">zf-Di19</text><text class="ct" x="2684.5" y="13" style="font-size:19px">Di19_C</text><rect class="m10" x="1345" y="-20" width="1748" height="11"/><rect class="M50" x="1345" y="-26" width="1748" height="17"/><rect class="tk" x="1344.2" y="-26" width="1.6" height="17"/><rect class="tk" x="3091.2" y="-26" width="1.6" height="17"/><use href="#LL200"/><text class="tl" x="3092" y="-28">245</text></g>
<g id="d-OsDi19-1" transform="translate(0,2366.5)"><rect class="bb" x="1345" y="-11" width="1611" height="21"/><rect class="bd" x="1345" y="-8" width="1611" height="16"/><rect class="zf" x="1633" y="-16" width="375" height="36" rx="7"/><path class="cd" d="M2152,20V-16H2155L2163,-7H2931L2939,-16H2942V20Z"/><text class="zt" x="1820.5" y="9">zf-Di19</text><text class="ct" x="2547" y="12">Di19_C</text><rect class="m5" x="1345" y="-19" width="1612" height="10"/><rect class="M25" x="1345" y="-25" width="1612" height="16"/><rect class="tk" x="1344.2" y="-25" width="1.6" height="16"/><rect class="tk" x="2955.2" y="-25" width="1.6" height="16"/><use href="#L200"/><text class="tl" x="2956" y="-27">226</text></g>
<g id="d-OsDi19-3" transform="translate(0,2435)"><rect class="bb" x="1345" y="-11" width="1310.3" height="21"/><rect class="bd" x="1345" y="-8" width="1310.3" height="16"/><rect class="zf" x="1777" y="-16" width="373" height="36" rx="7"/><path class="cd" d="M2293,20V-16H2296L2304,-7H2655L2645,6L2655,20Z"/><text class="zt" x="1963.5" y="9" style="font-size:26px">zf-Di19</text><text class="ct" x="2474" y="11" style="font-size:14px">Di19_C</text><rect class="m5" x="1345" y="-19" width="1311.3" height="10"/><rect class="M25" x="1345" y="-25" width="1311.3" height="16"/><rect class="tk" x="1344.2" y="-25" width="1.6" height="16"/><rect class="tk" x="2654.5" y="-25" width="1.6" height="16"/><use href="#L175"/><text class="tl" x="2655.3" y="-27">184</text></g>
</g>
</svg>
